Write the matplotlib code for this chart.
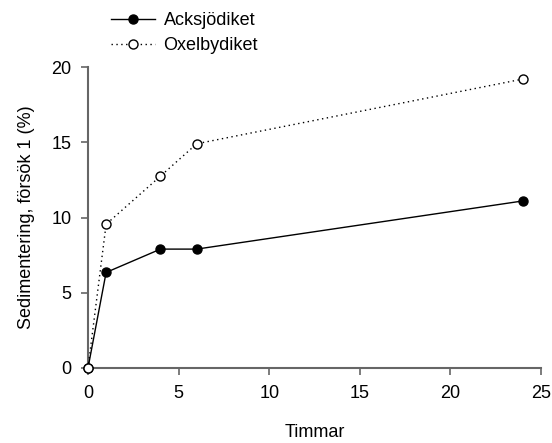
import matplotlib
matplotlib.use('Agg')
import matplotlib.pyplot as plt

plt.rcParams['font.family'] = ['Liberation Sans', 'DejaVu Sans']

timmar = [0, 1, 4, 6, 24]
acksjodiket = [0, 6.35, 7.9, 7.9, 11.1]
oxelbydiket = [0, 9.55, 12.75, 14.9, 19.2]

xticks = [0, 5, 10, 15, 20, 25]
yticks = [0, 5, 10, 15, 20]

spine_color = '#666666'

fig = plt.figure(figsize=(5.52, 4.43), dpi=100)
ax = fig.add_axes([88 / 552, 1 - 368 / 443, 453 / 552, 301 / 443])

ax.plot(timmar, acksjodiket, color='black', linestyle='-', linewidth=1.0,
        marker='o', markersize=6.5, markerfacecolor='black',
        markeredgecolor='black', clip_on=False, label='Acksjödiket', zorder=3)
ax.plot(timmar, oxelbydiket, color='black', linestyle=(0, (1, 2.5)), linewidth=1.0,
        marker='o', markersize=6.5, markerfacecolor='white',
        markeredgecolor='black', markeredgewidth=1.0, clip_on=False,
        label='Oxelbydiket', zorder=4)

ax.set_xlim(0, 25)
ax.set_ylim(0, 20)
ax.set_xticks(xticks)
ax.set_yticks(yticks)

for side in ['top', 'right']:
    ax.spines[side].set_visible(False)
for side in ['left', 'bottom']:
    ax.spines[side].set_color(spine_color)
    ax.spines[side].set_linewidth(1.5)

ax.tick_params(axis='both', direction='out', length=5, width=1.2,
               color=spine_color, labelsize=13, pad=7)

ax.set_xlabel('Timmar', fontsize=13, labelpad=16)
ax.set_ylabel('Sedimentering, försök 1 (%)', fontsize=13, labelpad=12)

fig.legend(loc='upper left', bbox_to_anchor=(95 / 552, 1.01), frameon=False,
           fontsize=13, handlelength=2.4, handletextpad=0.5, labelspacing=0.45)

fig.savefig('out.png', dpi=100)
